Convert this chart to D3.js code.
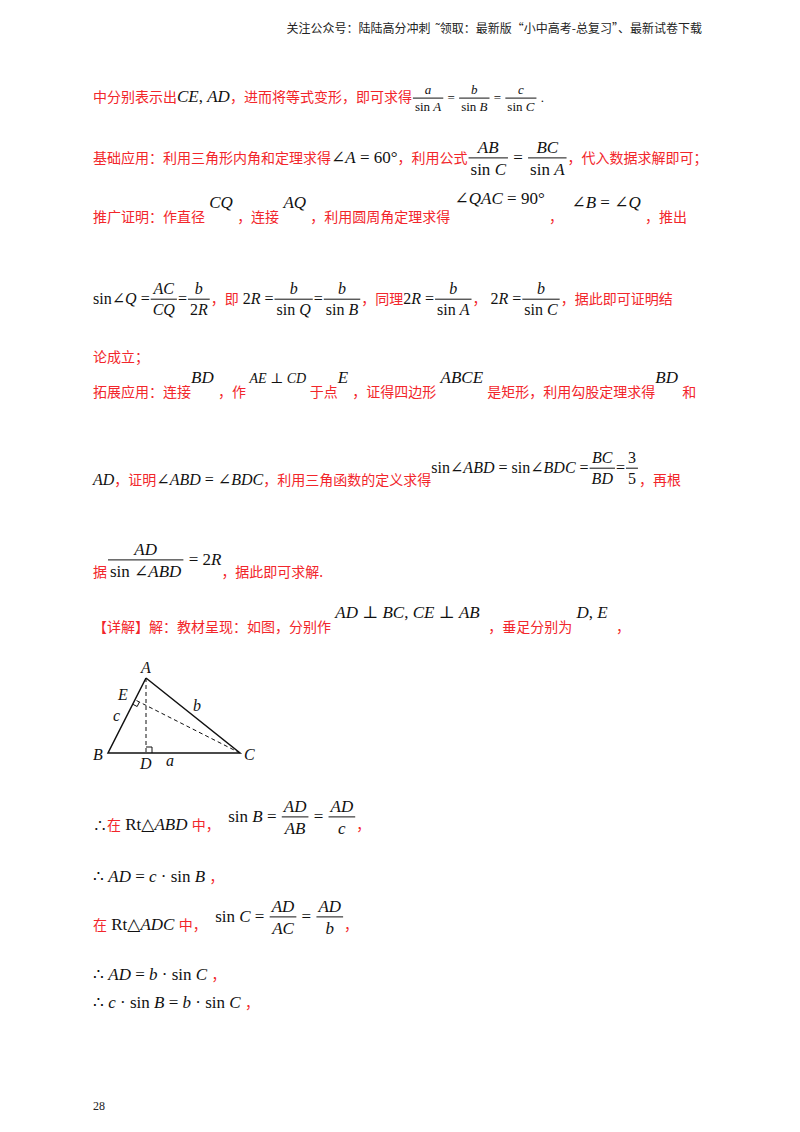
<!DOCTYPE html>
<html><head><meta charset="utf-8">
<script src="https://cdn.jsdelivr.net/npm/d3@7"></script>
<style>body{margin:0;background:#fff} text{white-space:pre}</style></head>
<body><svg id="page" width="800" height="1132"></svg>
<script>
// page content: each line = baseline y + tokens
// {c:text} red chinese, {k:text} black chinese, {m:text} math, {f:[num,den]} fraction, up = raise
const header = "关注公众号：陆陆高分冲刺  ˜领取：最新版“小中高考-总复习”、最新试卷下载";
const lines = [
  {y:102, s:13, t:[{c:"中分别表示出"},{m:"CE, AD",s:17},{c:"，进而将等式变形，即可求得"},{f:["a","sin A"]},{m:" = "},{f:["b","sin B"]},{m:" = "},{f:["c","sin C"]},{m:" ."}]},
  {y:163, t:[{c:"基础应用：利用三角形内角和定理求得"},{m:"∠A = 60°"},{c:"，利用公式"},{f:["AB","sin C"]},{m:" = "},{f:["BC","sin A"]},{c:"，代入数据求解即可；"}]},
  {y:222, t:[{c:"推广证明：作直径"},{m:" CQ ",up:14},{c:"，连接"},{m:" AQ ",up:14},{c:"，利用圆周角定理求得"},{m:" ∠QAC = 90° ",up:18},{c:"，"},{m:"  ∠B = ∠Q ",up:14},{c:"，推出"}]},
  {y:304, s:16, t:[{m:"sin∠Q ="},{f:["AC","CQ"]},{m:"="},{f:["b","2R"]},{c:"，即"},{m:" 2R ="},{f:["b","sin Q"]},{m:"="},{f:["b","sin B"]},{c:"，同理"},{m:"2R ="},{f:["b","sin A"]},{c:"，"},{m:" 2R ="},{f:["b","sin C"]},{c:"，据此即可证明结"}]},
  {y:362, t:[{c:"论成立；"}]},
  {y:397, t:[{c:"拓展应用：连接"},{m:"BD ",up:14},{c:"，作"},{m:" AE ⊥ CD ",up:14,s:14},{c:"于点"},{m:"E ",up:14},{c:"，证得四边形"},{m:" ABCE ",up:14},{c:"是矩形，利用勾股定理求得"},{m:"BD ",up:14},{c:"和"}]},
  {y:485, s:16, t:[{m:"AD"},{c:"，证明"},{m:"∠ABD = ∠BDC"},{c:"，利用三角函数的定义求得"},{m:"sin∠ABD = sin∠BDC =",up:12},{f:["BC","BD"],up:12},{m:"=",up:12},{f:["3","5"],up:12},{c:"，再根"}]},
  {y:577, t:[{c:"据"},{f:["AD","sin ∠ABD"],up:12},{m:" = 2R",up:12},{c:"，据此即可求解."}]},
  {y:632, t:[{c:"【详解】解：教材呈现：如图，分别作"},{m:" AD ⊥ BC, CE ⊥ AB  ",up:14},{c:"，垂足分别为"},{m:" D, E  ",up:14},{c:"，"}]},
  {y:830, t:[{k:"∴"},{c:"在"},{m:" Rt△ABD "},{c:"中，"},{m:"  sin B = ",up:8},{f:["AD","AB"],up:8},{m:" = ",up:8},{f:["AD","c"],up:8},{c:"，"}]},
  {y:882, t:[{m:"∴ AD = c · sin B "},{c:"，"}]},
  {y:930, t:[{c:"在"},{m:" Rt△ADC "},{c:"中，"},{m:"  sin C = ",up:8},{f:["AD","AC"],up:8},{m:" = ",up:8},{f:["AD","b"],up:8},{c:"，"}]},
  {y:980, t:[{m:"∴ AD = b · sin C "},{c:"，"}]},
  {y:1008, t:[{m:"∴ c · sin B = b · sin C "},{c:"，"}]}
];
// triangle figure
const triPts = {A:[146,678], B:[108,753], C:[240,753]};
const triLabels = [["A",141,673],["E",118,700],["c",113,721],["b",193,711],["B",93,760],["D",140,769],["a",166,766],["C",244,760]];

const RED = "#f2262b";
const CN = "'Noto Sans CJK SC', sans-serif";
const SERIF = "'Liberation Serif', 'DejaVu Serif', serif";
const svg = d3.select("#page");

svg.append("text").attr("x", 702).attr("y", 33).attr("text-anchor", "end")
  .attr("font-family", CN).attr("font-size", 12).attr("fill", "#222").text(header);
svg.append("text").attr("x", 93).attr("y", 1110).attr("font-family", SERIF)
  .attr("font-size", 12).attr("fill", "#222").text("28");

function mathText(g, str, x, y, size) {
  const t = g.append("text").attr("x", x).attr("y", y).attr("font-family", SERIF)
    .attr("font-size", size).attr("fill", "#111");
  str.split(/(sin|Rt)/).forEach(p => {
    if (p === "sin" || p === "Rt") { t.append("tspan").text(p); return; }
    p.split(/([A-Za-z]+)/).forEach(q => {
      if (!q) return;
      const s = t.append("tspan").text(q);
      if (/[A-Za-z]/.test(q)) s.attr("font-style", "italic");
    });
  });
  return t.node().getComputedTextLength();
}

lines.forEach(line => {
  let x = 93;
  const g = svg.append("g");
  line.t.forEach(tok => {
    const y = line.y - (tok.up || 0);
    const ms = tok.s || line.s || 17;
    if (tok.c !== undefined || tok.k !== undefined) {
      const t = g.append("text").attr("x", x).attr("y", y).attr("font-family", CN)
        .attr("font-size", 14).attr("fill", tok.c !== undefined ? RED : "#111")
        .text(tok.c !== undefined ? tok.c : tok.k);
      x += t.node().getComputedTextLength();
    } else if (tok.m !== undefined) {
      x += mathText(g, tok.m, x, y, ms);
    } else if (tok.f) {
      const fg = svg.append("g");
      const bar = y - ms * 0.3;
      const w1 = mathText(fg, tok.f[0], 0, bar - ms * 0.3, ms);
      const w2 = mathText(fg, tok.f[1], 0, bar + ms * 1.0, ms);
      const w = Math.max(w1, w2) + 4;
      fg.selectAll("text").each(function(d, i) {
        const ww = i === 0 ? w1 : w2;
        d3.select(this).attr("x", x + 1 + (w - ww) / 2);
      });
      fg.append("line").attr("x1", x + 1).attr("x2", x + 1 + w).attr("y1", bar).attr("y2", bar)
        .attr("stroke", "#111").attr("stroke-width", 1);
      x += w + 2;
    }
  });
});

// figure
const fig = svg.append("g").attr("stroke", "#111").attr("fill", "none");
const {A, B, C} = triPts;
fig.append("path").attr("d", d3.line()([A, B, C, A])).attr("stroke-width", 1.5);
const D = [A[0], B[1]];
// foot of perpendicular from C to AB
const ab = [B[0] - A[0], B[1] - A[1]];
const tt = ((C[0] - A[0]) * ab[0] + (C[1] - A[1]) * ab[1]) / (ab[0] ** 2 + ab[1] ** 2);
const E = [A[0] + ab[0] * tt, A[1] + ab[1] * tt];
fig.append("path").attr("d", d3.line()([A, D])).attr("stroke-dasharray", "4,3");
fig.append("path").attr("d", d3.line()([C, E])).attr("stroke-dasharray", "4,3");
fig.append("path").attr("d", d3.line()([[D[0], D[1] - 6], [D[0] + 6, D[1] - 6], [D[0] + 6, D[1]]]));
const len = Math.hypot(ab[0], ab[1]), u = [ab[0] / len * 5, ab[1] / len * 5];
const cv = [C[0] - E[0], C[1] - E[1]], cl = Math.hypot(cv[0], cv[1]), v = [cv[0] / cl * 5, cv[1] / cl * 5];
fig.append("path").attr("d", d3.line()([[E[0] + u[0], E[1] + u[1]], [E[0] + u[0] + v[0], E[1] + u[1] + v[1]], [E[0] + v[0], E[1] + v[1]]]));
svg.selectAll(".lbl").data(triLabels).join("text").attr("class", "lbl")
  .attr("x", d => d[1]).attr("y", d => d[2]).attr("font-family", SERIF)
  .attr("font-style", "italic").attr("font-size", 16).attr("fill", "#111").text(d => d[0]);
</script></body></html>
